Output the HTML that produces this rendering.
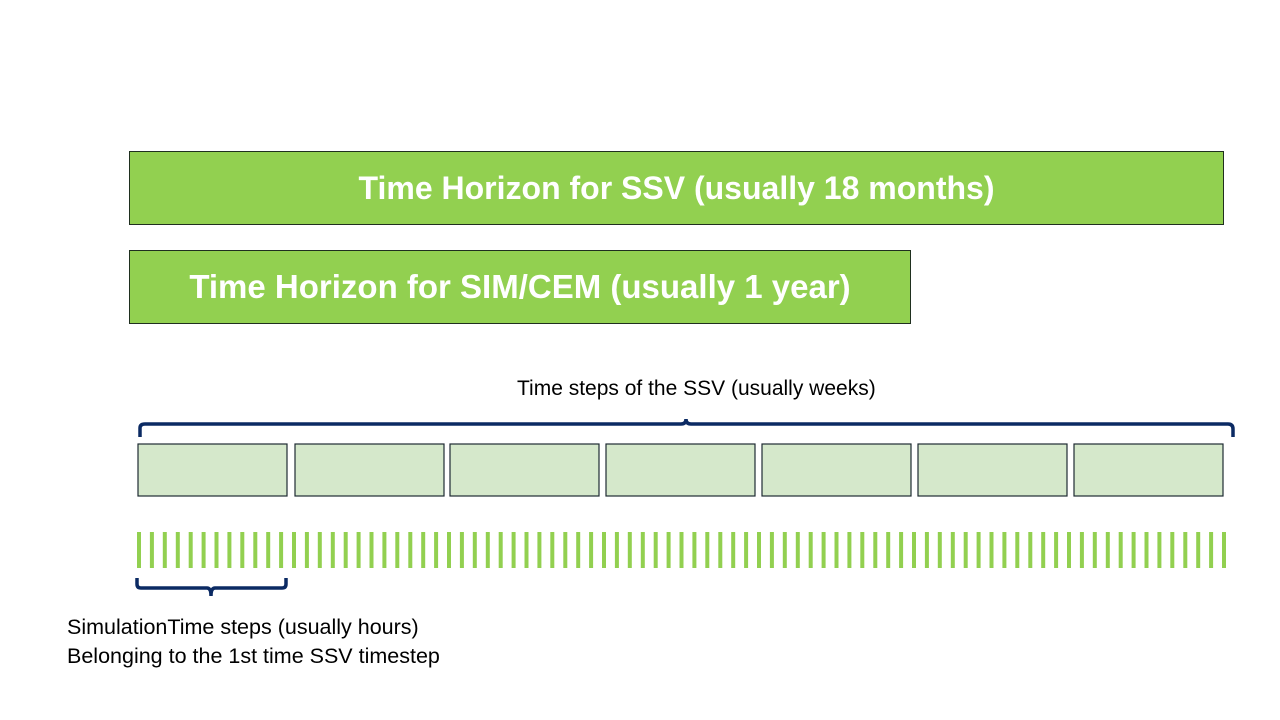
<!DOCTYPE html>
<html><head><meta charset="utf-8"><style>
body{margin:0;background:#fff;width:1280px;height:720px;overflow:hidden;position:relative;font-family:"Liberation Sans",sans-serif}
.bar{position:absolute;background:#92d050;border:1px solid #1f2f1f;color:#fff;font-weight:bold;font-size:32px;display:flex;align-items:center;justify-content:center;box-sizing:border-box;white-space:nowrap}
.lbl{position:absolute;color:#000;font-size:21px;white-space:nowrap}
</style></head><body>
<div class="bar" style="left:129px;top:151px;width:1095px;height:74px">Time Horizon for SSV (usually 18 months)</div>
<div class="bar" style="left:129px;top:250px;width:782px;height:74px;padding-right:0px;font-size:33px">Time Horizon for SIM/CEM (usually 1 year)</div>
<div class="lbl" style="left:517px;top:377px;">Time steps of the SSV (usually weeks)</div>
<div class="lbl" style="left:67px;top:613px;line-height:29px;font-size:21.5px">SimulationTime steps (usually hours)<br>Belonging to the 1st time SSV timestep</div>
<svg id="d" width="1280" height="720" style="position:absolute;left:0;top:0">
<path d="M140,437 V428 Q140,424 145,424 H681 Q686,424 686,419 Q686,424 691,424 H1228 Q1233,424 1233,429 V437" fill="none" stroke="#0b2a63" stroke-width="3.5"/>
<path d="M137,578 V584 Q137,588 141,588 H207 Q211,588 211,596 Q211,588 215,588 H282 Q286,588 286,584 V578" fill="none" stroke="#0b2a63" stroke-width="3.5"/>
</svg>
<script>
const weekStarts=[138,295,450,606,762,918,1074];
const hourCount=85;
const svg=document.getElementById('d');
const ns='http://www.w3.org/2000/svg';
weekStarts.forEach((x,i)=>{
 const r=document.createElementNS(ns,'rect');
 r.setAttribute('x',x);r.setAttribute('y',444);r.setAttribute('width',149);r.setAttribute('height',52);
 r.setAttribute('fill','#d5e8cb');r.setAttribute('stroke','#1e2b33');r.setAttribute('stroke-width','1.2');
 
 
 svg.appendChild(r);
});
const x0=137,x1=1222;
for(let i=0;i<hourCount;i++){
 const x=x0+(x1-x0)*i/(hourCount-1);
 const r=document.createElementNS(ns,'rect');
 r.setAttribute('x',x.toFixed(1));r.setAttribute('y',532);r.setAttribute('width',4);r.setAttribute('height',36);
 r.setAttribute('fill','#92d050');
 
 
 svg.appendChild(r);
}
</script>
</body></html>
